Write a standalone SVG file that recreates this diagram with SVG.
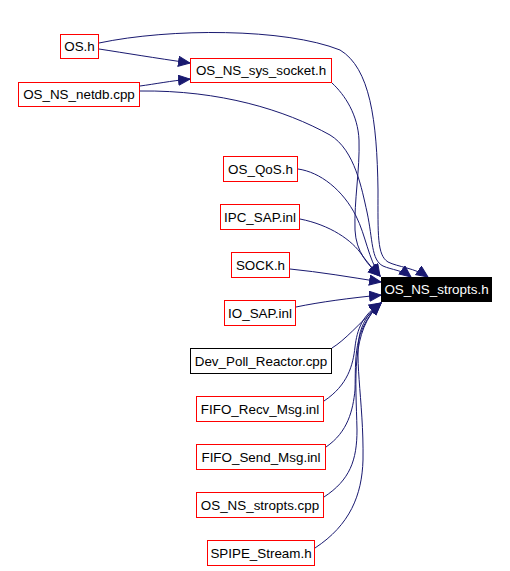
<svg xmlns="http://www.w3.org/2000/svg" width="510" height="571" viewBox="0 0 510 571">
<defs>
<style>
.n rect{fill:#fff;stroke:#f00;stroke-width:1}
.n text{font-family:"Liberation Sans",Arial,sans-serif;font-size:13.4px;fill:#000;text-anchor:middle}
.k rect{stroke:#000}
.m rect{fill:#000;stroke:#000}
.m text{fill:#fff}
.e path{fill:none;stroke:#191970;stroke-width:1;marker-end:url(#a)}
</style>
<marker id="a" markerUnits="userSpaceOnUse" markerWidth="14" markerHeight="12" refX="12" refY="5.5" orient="auto" viewBox="0 0 14 12">
<path d="M0.5,0.5 L12,5.5 L0.5,10.5 z" fill="#191970" stroke="#191970" stroke-width="1"/>
</marker>
</defs>
<rect width="510" height="571" fill="#fff"/>
<g id="edges" class="e">
<path d="M99,49 C125,53 155,58 190,63"/>
<path d="M140,86 C155,84 170,81 190,79"/>
<path d="M99,43 C170,28 285,28 340,50 C370,68 377,120 378,190 C378,235 377,255 388,262 C398,267 415,268 428,277"/>
<path d="M140,91 C220,90 285,110 330,135 C355,150 362,190 367,212 C373,240 371,260 383,266 C392,270 402,270 411,277"/>
<path d="M332,83 C345,95 358,115 359,140 C360,170 354,200 355,230 C356,252 368,265 380,276"/>
<path d="M298,169 C320,172 343,190 356,216 C366,236 368,258 380,276"/>
<path d="M300,219 C330,225 352,240 362,255 C368,263 372,268 380,276"/>
<path d="M290,269 C320,272 350,277 381,282"/>
<path d="M296,307 C320,302 350,298 381,295"/>
<path d="M332,348 C345,340 358,325 381,303"/>
<path d="M324,401 C348,385 353,365 355,347 C357,330 362,315 381,303"/>
<path d="M326,447 C348,432 353,410 355,390 C356,360 352,330 381,303"/>
<path d="M324,497 C350,480 357,460 357,430 C356,380 350,330 381,303"/>
<path d="M315,548 C350,525 362,495 363,460 C364,400 352,350 362,327 C366,317 372,310 381,303"/>
</g>
<g id="n_os_h" class="n"><rect x="60.5" y="34.5" width="38" height="24"/><text x="79.5" y="51">OS.h</text></g>
<g id="n_sys_socket" class="n"><rect x="190.5" y="58.5" width="141" height="24"/><text x="261" y="75">OS_NS_sys_socket.h</text></g>
<g id="n_netdb" class="n"><rect x="18.5" y="82.5" width="121" height="24"/><text x="79" y="99">OS_NS_netdb.cpp</text></g>
<g id="n_qos" class="n"><rect x="223.5" y="156.5" width="74" height="25"/><text x="260.5" y="173.5">OS_QoS.h</text></g>
<g id="n_ipc" class="n"><rect x="220.5" y="204.5" width="79" height="25"/><text x="260" y="221.5">IPC_SAP.inl</text></g>
<g id="n_sock" class="n"><rect x="231.5" y="252.5" width="58" height="25"/><text x="260.5" y="269.5">SOCK.h</text></g>
<g id="n_io_sap" class="n"><rect x="224.5" y="300.5" width="71" height="25"/><text x="260" y="317.5">IO_SAP.inl</text></g>
<g id="n_stropts_h" class="n m"><rect x="381.5" y="277.5" width="110" height="24"/><text x="436.5" y="294">OS_NS_stropts.h</text></g>
<g id="n_dev_poll" class="n k"><rect x="190.5" y="348.5" width="141" height="25"/><text x="261" y="365.5">Dev_Poll_Reactor.cpp</text></g>
<g id="n_fifo_recv" class="n"><rect x="196.5" y="396.5" width="127" height="25"/><text x="260" y="413.5">FIFO_Recv_Msg.inl</text></g>
<g id="n_fifo_send" class="n"><rect x="196.5" y="444.5" width="129" height="25"/><text x="261" y="461.5">FIFO_Send_Msg.inl</text></g>
<g id="n_stropts_cpp" class="n"><rect x="196.5" y="492.5" width="127" height="25"/><text x="260" y="509.5">OS_NS_stropts.cpp</text></g>
<g id="n_spipe" class="n"><rect x="207.5" y="540.5" width="107" height="25"/><text x="261" y="557.5">SPIPE_Stream.h</text></g>
</svg>
